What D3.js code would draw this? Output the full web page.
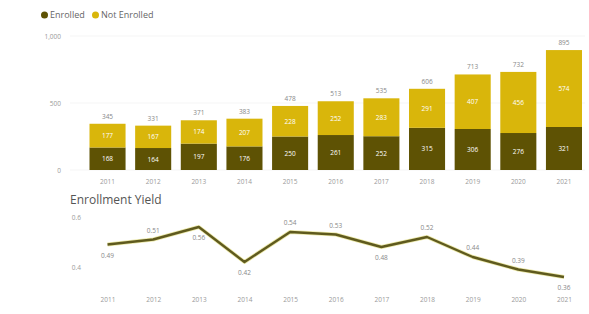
<!DOCTYPE html>
<html>
<head>
<meta charset="utf-8">
<script src="https://cdn.jsdelivr.net/npm/d3@7"></script>
<style>
  body { margin: 0; background: #fff; font-family: "Open Sans", "DejaVu Sans", sans-serif; }
  svg text { font-family: "Open Sans", "DejaVu Sans", sans-serif; }
</style>
</head>
<body>
<svg id="chart" width="589" height="314"></svg>
<script>
// data
const years = ["2011","2012","2013","2014","2015","2016","2017","2018","2019","2020","2021"];
const enrolled    = [168, 164, 197, 176, 250, 261, 252, 315, 306, 276, 321];
const notEnrolled = [177, 167, 174, 207, 228, 252, 283, 291, 407, 456, 574];
const yieldRate   = [0.49, 0.51, 0.56, 0.42, 0.54, 0.53, 0.48, 0.52, 0.44, 0.39, 0.36];
const barTicks  = [0, 500, 1000];
const lineTicks = [0.4, 0.6];

const colEnrolled = "#5e5204";
const colNot = "#d9b60b";
const colLine = "#5f5a1e";
const grey = "#9a9a9a";

const svg = d3.select("#chart");

// legend
const legend = svg.append("g").attr("transform", "translate(41,15)");
[["Enrolled", colEnrolled], ["Not Enrolled", colNot]].forEach((d, i) => {
  const gx = i === 0 ? 0 : 51;
  legend.append("circle").attr("cx", gx + 3.5).attr("cy", 0).attr("r", 3.5).attr("fill", d[1]);
  legend.append("text").attr("x", gx + 9).attr("y", 3.2)
    .attr("font-size", 9).attr("fill", "#666").text(d[0]);
});

// bar chart
const x = d3.scaleBand().domain(years).range([89.5, 582]).paddingInner(0.21).paddingOuter(0);
const y = d3.scaleLinear().domain([0, 1000]).range([170, 36]);

const rows = years.map((yr, i) => ({ year: yr, enrolled: enrolled[i], notEnrolled: notEnrolled[i] }));
const stack = d3.stack().keys(["enrolled", "notEnrolled"])(rows);
const colors = { enrolled: colEnrolled, notEnrolled: colNot };

const yAxis = svg.append("g").attr("transform", "translate(64,0)")
  .call(d3.axisLeft(y).tickValues(barTicks).tickSize(0).tickFormat(d3.format(",")));
yAxis.select(".domain").remove();
yAxis.selectAll("text").attr("fill", grey).attr("font-size", 6.5);

svg.append("g").selectAll("line").data(barTicks).join("line")
  .attr("x1", 70).attr("x2", 585).attr("y1", d => y(d)).attr("y2", d => y(d))
  .attr("stroke", "#f5f5f5");

stack.forEach(layer => {
  svg.append("g").selectAll("rect").data(layer).join("rect")
    .attr("x", d => x(d.data.year))
    .attr("width", x.bandwidth())
    .attr("y", d => y(d[1]))
    .attr("height", d => y(d[0]) - y(d[1]))
    .attr("fill", colors[layer.key]);

  svg.append("g").selectAll("text").data(layer).join("text")
    .attr("x", d => x(d.data.year) + x.bandwidth() / 2)
    .attr("y", d => (y(d[0]) + y(d[1])) / 2 + 2.5)
    .attr("text-anchor", "middle")
    .attr("font-size", 6.5)
    .attr("fill", "#fff")
    .text(d => d[1] - d[0]);
});

// totals on top
svg.append("g").selectAll("text").data(rows).join("text")
  .attr("x", d => x(d.year) + x.bandwidth() / 2)
  .attr("y", d => y(d.enrolled + d.notEnrolled) - 5)
  .attr("text-anchor", "middle")
  .attr("font-size", 6.5)
  .attr("fill", "#888")
  .text(d => d.enrolled + d.notEnrolled);

const xAxis = svg.append("g").attr("transform", "translate(0,176)")
  .call(d3.axisBottom(x).tickSize(0));
xAxis.select(".domain").remove();
xAxis.selectAll("text").attr("fill", grey).attr("font-size", 6.5);

// line chart
svg.append("text").attr("x", 70).attr("y", 204)
  .attr("font-size", 12).attr("fill", "#555").text("Enrollment Yield");

const xl = d3.scalePoint().domain(years).range([x("2011") + x.bandwidth() / 2, x("2021") + x.bandwidth() / 2]);
const yl = d3.scaleLinear().domain([0.4, 0.6]).range([267, 217]);

const yAxis2 = svg.append("g").attr("transform", "translate(84,0)")
  .call(d3.axisLeft(yl).tickValues(lineTicks).tickSize(0).tickFormat(d3.format(".1f")));
yAxis2.select(".domain").remove();
yAxis2.selectAll("text").attr("fill", grey).attr("font-size", 6.5);

const pts = years.map((yr, i) => ({ year: yr, v: yieldRate[i] }));
const line = d3.line().x(d => xl(d.year)).y(d => yl(d.v));

svg.append("path").datum(pts)
  .attr("d", line).attr("fill", "none")
  .attr("stroke", "#ebe8a8").attr("stroke-width", 4).attr("stroke-linejoin", "round");
svg.append("path").datum(pts)
  .attr("d", line).attr("fill", "none")
  .attr("stroke", colLine).attr("stroke-width", 2.4).attr("stroke-linejoin", "round");

// labels above or below the line, as in the picture
const below = [true, false, true, true, false, false, true, false, false, false, true];
svg.append("g").selectAll("text").data(pts).join("text")
  .attr("x", d => xl(d.year))
  .attr("y", (d, i) => below[i] ? yl(d.v) + 13 : yl(d.v) - 7)
  .attr("text-anchor", "middle")
  .attr("font-size", 6.5)
  .attr("fill", "#888")
  .text(d => d3.format(".2f")(d.v));

const xAxis2 = svg.append("g").attr("transform", "translate(0,294)")
  .call(d3.axisBottom(xl).tickSize(0));
xAxis2.select(".domain").remove();
xAxis2.selectAll("text").attr("fill", grey).attr("font-size", 6.5);
</script>
</body>
</html>
